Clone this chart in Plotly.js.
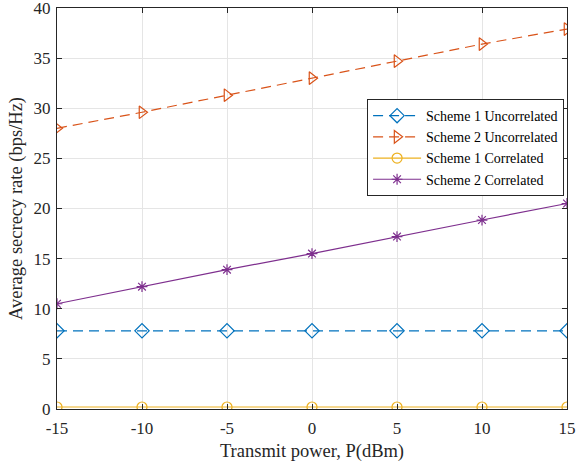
<!DOCTYPE html>
<html>
<head>
<meta charset="utf-8">
<script src="https://cdn.plot.ly/plotly-3.0.1.min.js"></script>
<style>html,body{margin:0;padding:0;background:#fff;}#chart{width:576px;height:467px;}</style>
</head>
<body>
<div id="chart"></div>
<script>
const powerDBm = [-15, -10, -5, 0, 5, 10, 15];
const scheme1Uncorrelated = [7.8, 7.8, 7.8, 7.8, 7.8, 7.8, 7.8];
const scheme2Uncorrelated = [28.0, 29.6, 31.3, 33.0, 34.7, 36.4, 37.9];
const scheme1Correlated = [0.2, 0.2, 0.2, 0.2, 0.2, 0.2, 0.2];
const scheme2Correlated = [10.5, 12.2, 13.9, 15.5, 17.2, 18.85, 20.5];
const seriesNames = ["Scheme 1 Uncorrelated", "Scheme 2 Uncorrelated", "Scheme 1 Correlated", "Scheme 2 Correlated"];
const xTickLabels = ["-15", "-10", "-5", "0", "5", "10", "15"];
const yTickValues = [0, 5, 10, 15, 20, 25, 30, 35, 40];

const font = "Liberation Serif, Times New Roman, serif";
const traces = [
  {x: powerDBm, y: scheme1Uncorrelated, name: seriesNames[0], mode: "lines+markers",
   line: {color: "#0072BD", width: 1.2, dash: "10px,6px"},
   marker: {symbol: "diamond-open", size: 11, color: "#0072BD", line: {width: 1.2}}},
  {x: powerDBm, y: scheme2Uncorrelated, name: seriesNames[1], mode: "lines+markers",
   line: {color: "#D95319", width: 1.2, dash: "10px,6px"},
   marker: {symbol: "triangle-right-open", size: 11, color: "#D95319", line: {width: 1.2}}},
  {x: powerDBm, y: scheme1Correlated, name: seriesNames[2], mode: "lines+markers",
   line: {color: "#EDB120", width: 1.2},
   marker: {symbol: "circle-open", size: 10, color: "#EDB120", line: {width: 1.2}}},
  {x: powerDBm, y: scheme2Correlated, name: seriesNames[3], mode: "lines+markers",
   line: {color: "#7E2F8E", width: 1.2},
   marker: {symbol: "asterisk-open", size: 9, color: "#7E2F8E", line: {width: 1.2}}}
];

const axisCommon = {
  showline: true, mirror: "ticks", linecolor: "#262626", linewidth: 1,
  ticks: "inside", ticklen: 5, tickcolor: "#262626",
  showgrid: true, gridcolor: "#e5e5e5", gridwidth: 1, zeroline: false,
  ticklabeloverflow: "allow",
  tickfont: {family: font, size: 17, color: "#262626"}
};

const layout = {
  width: 576, height: 467,
  margin: {l: 57, r: 9, t: 8, b: 58},
  paper_bgcolor: "#fff", plot_bgcolor: "#fff",
  font: {family: font, color: "#262626"},
  xaxis: Object.assign({}, axisCommon, {
    range: [-15, 15], tickvals: powerDBm, ticktext: xTickLabels, ticklabelstandoff: 4,
    title: {text: "Transmit power, P(dBm)", font: {family: font, size: 18.5, color: "#262626"}, standoff: 6}
  }),
  yaxis: Object.assign({}, axisCommon, {
    range: [0, 40], tickvals: yTickValues, ticktext: yTickValues.map(String), ticklabelstandoff: 2,
    title: {text: "Average secrecy rate (bps/Hz)", font: {family: font, size: 18.5, color: "#262626"}, standoff: 6}
  }),
  legend: {
    x: 0.608, y: 0.773, xanchor: "left", yanchor: "top",
    bgcolor: "#fff", bordercolor: "#262626", borderwidth: 1,
    font: {family: font, size: 14, color: "#000"},
    itemwidth: 48, tracegroupgap: 0
  },
  showlegend: true
};

Plotly.newPlot("chart", traces, layout, {displayModeBar: false, staticPlot: true});
</script>
</body>
</html>
